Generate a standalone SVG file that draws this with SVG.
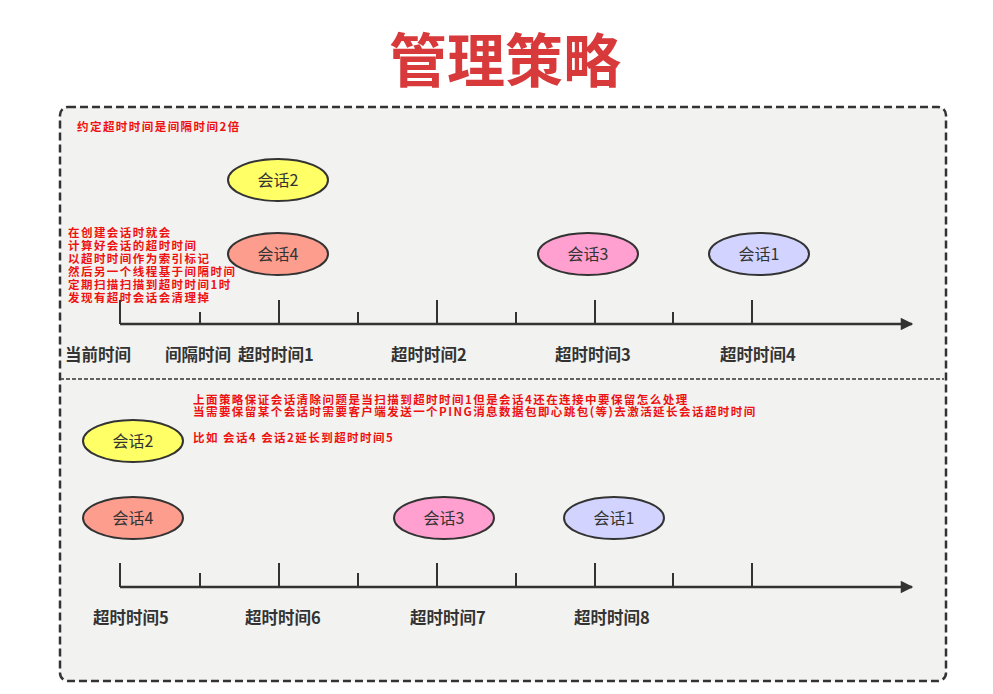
<svg xmlns="http://www.w3.org/2000/svg" width="993" height="694" viewBox="0 0 993 694">
<defs>
<style>
.frame{fill:#f2f2f0;stroke:#333;stroke-width:2.5;stroke-dasharray:8 4}
.div{stroke:#333;stroke-width:1.6;stroke-dasharray:4 2;fill:none}
.axis{stroke:#333;stroke-width:2.5;fill:none}
.tick{stroke:#333;stroke-width:2;fill:none}
.node ellipse{stroke:#333;stroke-width:2}
.node text{font-family:"Noto Sans CJK SC","Noto Sans",sans-serif;font-size:16px;fill:#333;text-anchor:middle}
.lbl{font-family:"Noto Sans CJK SC","Noto Sans",sans-serif;font-size:16.5px;font-weight:bold;fill:#333}
.red{font-family:"Noto Sans CJK SC","Noto Sans",sans-serif;font-size:11.5px;font-weight:bold;fill:#ee1111;letter-spacing:1.45px}
.y{fill:#ffff66}.s{fill:#fc9d8e}.p{fill:#ffa0d0}.l{fill:#d2d4ff}
</style>
<marker id="arr" viewBox="0 0 10 10" refX="9" refY="5" markerWidth="7" markerHeight="5" markerUnits="strokeWidth" orient="auto">
<path d="M0,0 L10,5 L0,10 z" fill="#333"/>
</marker>
</defs>
<rect width="993" height="694" fill="#fff"/>
<text x="505" y="82" text-anchor="middle" font-family="'Noto Sans CJK SC','Noto Sans',sans-serif" font-size="58" font-weight="bold" fill="#d83a3b">管理策略</text>
<rect class="frame" x="60" y="107" width="886" height="574" rx="8"/>
<line class="div" x1="60" y1="379" x2="944" y2="379"/>
<g id="connectors">
<line class="axis" x1="120" y1="324" x2="912" y2="324" marker-end="url(#arr)"/>
<path class="tick" d="M120,300V324M279,300V324M437,300V324M595,300V324M752,300V324M200,312V324M358,312V324M516,312V324M673,312V324"/>
<line class="axis" x1="120" y1="587" x2="912" y2="587" marker-end="url(#arr)"/>
<path class="tick" d="M120,563V587M279,563V587M437,563V587M595,563V587M752,563V587M200,573V587M358,573V587M516,573V587M673,573V587"/>
</g>
<g id="top-session2" class="node"><ellipse class="y" cx="278" cy="180" rx="50" ry="21"/><text x="278" y="186">会话2</text></g>
<g id="top-session4" class="node"><ellipse class="s" cx="278" cy="254" rx="50" ry="21"/><text x="278" y="260">会话4</text></g>
<g id="top-session3" class="node"><ellipse class="p" cx="588" cy="254" rx="50" ry="21"/><text x="588" y="260">会话3</text></g>
<g id="top-session1" class="node"><ellipse class="l" cx="759" cy="254" rx="50" ry="21"/><text x="759" y="260">会话1</text></g>
<g id="bottom-session2" class="node"><ellipse class="y" cx="133" cy="441" rx="50" ry="21"/><text x="133" y="447">会话2</text></g>
<g id="bottom-session4" class="node"><ellipse class="s" cx="133" cy="518" rx="50" ry="21"/><text x="133" y="524">会话4</text></g>
<g id="bottom-session3" class="node"><ellipse class="p" cx="444" cy="518" rx="50" ry="21"/><text x="444" y="524">会话3</text></g>
<g id="bottom-session1" class="node"><ellipse class="l" cx="614" cy="518" rx="50" ry="21"/><text x="614" y="524">会话1</text></g>
<g id="top-labels">
<text class="lbl" x="65" y="361">当前时间</text>
<text class="lbl" x="165" y="361">间隔时间</text>
<text class="lbl" x="238" y="361">超时时间1</text>
<text class="lbl" x="391" y="361">超时时间2</text>
<text class="lbl" x="555" y="361">超时时间3</text>
<text class="lbl" x="720" y="361">超时时间4</text>
</g>
<g id="bottom-labels">
<text class="lbl" x="93" y="624">超时时间5</text>
<text class="lbl" x="245" y="624">超时时间6</text>
<text class="lbl" x="410" y="624">超时时间7</text>
<text class="lbl" x="574" y="624">超时时间8</text>
</g>
<g id="notes">
<text class="red" x="77" y="131">约定超时时间是间隔时间2倍</text>
<text class="red" x="68" y="237">在创建会话时就会</text>
<text class="red" x="68" y="250">计算好会话的超时时间</text>
<text class="red" x="68" y="263">以超时时间作为索引标记</text>
<text class="red" x="68" y="276">然后另一个线程基于间隔时间</text>
<text class="red" x="68" y="289">定期扫描扫描到超时时间1时</text>
<text class="red" x="68" y="302">发现有超时会话会清理掉</text>
<text class="red" x="193" y="404">上面策略保证会话清除问题是当扫描到超时时间1但是会话4还在连接中要保留怎么处理</text>
<text class="red" x="193" y="416">当需要保留某个会话时需要客户端发送一个PING消息数据包即心跳包(等)去激活延长会话超时时间</text>
<text class="red" x="193" y="442">比如 会话4 会话2延长到超时时间5</text>
</g>
</svg>
